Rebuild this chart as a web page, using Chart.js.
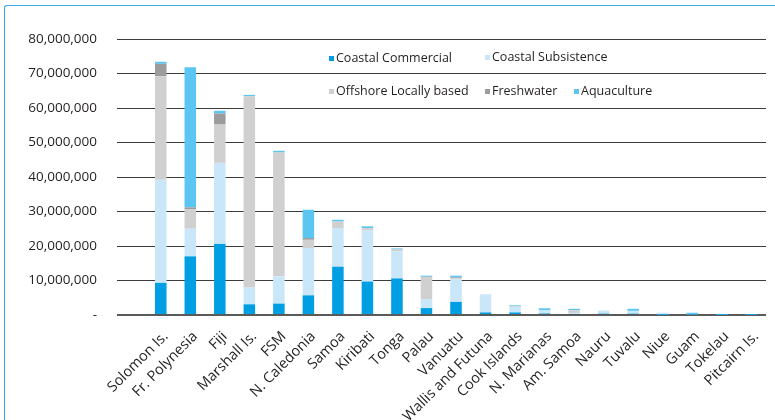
<!DOCTYPE html>
<html>
<head>
<meta charset="utf-8">
<title>Pacific fisheries production by sector</title>
<script src="https://cdn.jsdelivr.net/npm/chart.js@4.4.1/dist/chart.umd.min.js"></script>
<style>
  html, body { margin: 0; padding: 0; background: #fff; }
  #wrap { position: relative; width: 775px; height: 420px; overflow: hidden; }
  #frame {
    position: absolute; left: 4px; top: 5px; width: 900px; height: 500px;
    border-left: 1.5px solid #3aa9df; border-top: 1.5px solid #3aa9df;
    border-top-left-radius: 3px; pointer-events: none;
  }
  canvas { position: absolute; left: 0; top: 0; }
</style>
</head>
<body>
<div id="wrap">
  <div id="frame"></div>
  <canvas id="chart" width="775" height="420"></canvas>
</div>
<script>
// Countries and territories, largest total production first
const categories = ['Solomon Is.', 'Fr. Polynesia', 'Fiji', 'Marshall Is.', 'FSM', 'N. Caledonia',
  'Samoa', 'Kiribati', 'Tonga', 'Palau', 'Vanuatu', 'Wallis and Futuna', 'Cook Islands',
  'N. Marianas', 'Am. Samoa', 'Nauru', 'Tuvalu', 'Niue', 'Guam', 'Tokelau', 'Pitcairn Is.'];

// Production value per sector
const coastalCommercial = [9300000, 17000000, 20600000, 3100000, 3300000, 5700000, 14000000, 9700000,
  10600000, 2000000, 3800000, 750000, 750000, 450000, 300000, 400000, 400000, 50000, 150000, 50000, 50000];
const coastalSubsistence = [29900000, 8000000, 23500000, 4900000, 7900000, 13700000, 11200000, 14800000,
  7900000, 2600000, 6600000, 5250000, 1550000, 900000, 300000, 900000, 800000, 600000, 100000, 300000, 100000];
const offshoreLocal = [30000000, 5700000, 11100000, 55400000, 35900000, 2400000, 1900000, 700000,
  500000, 6300000, 300000, 0, 200000, 0, 800000, 0, 0, 0, 0, 0, 0];
const freshwater = [3600000, 500000, 3200000, 0, 0, 500000, 0, 0, 100000, 200000, 200000, 0, 0, 0, 0, 0, 0, 0, 0, 0, 0];
const aquaculture = [600000, 40600000, 800000, 400000, 500000, 8200000, 500000, 500000, 200000, 300000,
  500000, 0, 300000, 600000, 400000, 0, 600000, 0, 400000, 0, 0];

const seriesNames = ['Coastal Commercial', 'Coastal Subsistence', 'Offshore Locally based', 'Freshwater', 'Aquaculture'];
const seriesColors = ['#009fe3', '#c9e7f8', '#d0d0d0', '#9c9c9c', '#5bc6f2'];
const seriesData = [coastalCommercial, coastalSubsistence, offshoreLocal, freshwater, aquaculture];

// Y axis
const yMax = 80000000;
const yStep = 10000000;

// Legend placement inside the plot (two rows)
const legendSpots = [
  { x: 329, y: 58 }, { x: 485, y: 57 },
  { x: 329, y: 91 }, { x: 485, y: 91 }, { x: 574, y: 91 }
];

const FONT = '"Open Sans", "Noto Sans", sans-serif';
const TEXT = '#231f20';

const insideLegend = {
  id: 'insideLegend',
  afterDraw(chart) {
    const ctx = chart.ctx;
    ctx.save();
    ctx.font = '12.5px ' + FONT;
    ctx.textBaseline = 'middle';
    ctx.textAlign = 'left';
    chart.data.datasets.forEach((ds, i) => {
      const p = legendSpots[i];
      ctx.fillStyle = ds.backgroundColor;
      ctx.fillRect(p.x, p.y - 2, 5, 5);
      ctx.fillStyle = TEXT;
      ctx.fillText(ds.label, p.x + 7, p.y);
    });
    ctx.restore();
  }
};

new Chart(document.getElementById('chart'), {
  type: 'bar',
  data: {
    labels: categories,
    datasets: seriesNames.map((name, i) => ({
      label: name,
      data: seriesData[i],
      backgroundColor: seriesColors[i],
      borderWidth: 0,
      categoryPercentage: 1,
      barPercentage: 0.39
    }))
  },
  options: {
    responsive: false,
    animation: false,
    devicePixelRatio: 1,
    layout: { padding: { top: 39, right: 9, bottom: 0, left: 0 } },
    plugins: {
      legend: { display: false },
      tooltip: { enabled: false }
    },
    scales: {
      x: {
        stacked: true,
        grid: { display: false },
        border: { display: false },
        ticks: {
          autoSkip: false,
          maxRotation: 45,
          minRotation: 45,
          padding: 5,
          labelOffset: 5,
          color: TEXT,
          font: { family: FONT, size: 14.5 }
        },
        afterFit(scale) { scale.height = 105; }
      },
      y: {
        stacked: true,
        min: 0,
        max: yMax,
        border: { display: false },
        grid: {
          color: c => (c.tick && c.tick.value === 0) ? '#5a5a5a' : '#3c3c3c',
          lineWidth: c => (c.tick && c.tick.value === 0) ? 2 : 1,
          drawTicks: true,
          tickLength: 29
        },
        ticks: {
          stepSize: yStep,
          padding: 20,
          color: TEXT,
          font: { family: FONT, size: 13.5 },
          callback: v => v === 0 ? '-' : v.toLocaleString('en-US')
        },
        afterFit(scale) { scale.width = 146; }
      }
    }
  },
  plugins: [insideLegend]
});
</script>
</body>
</html>
